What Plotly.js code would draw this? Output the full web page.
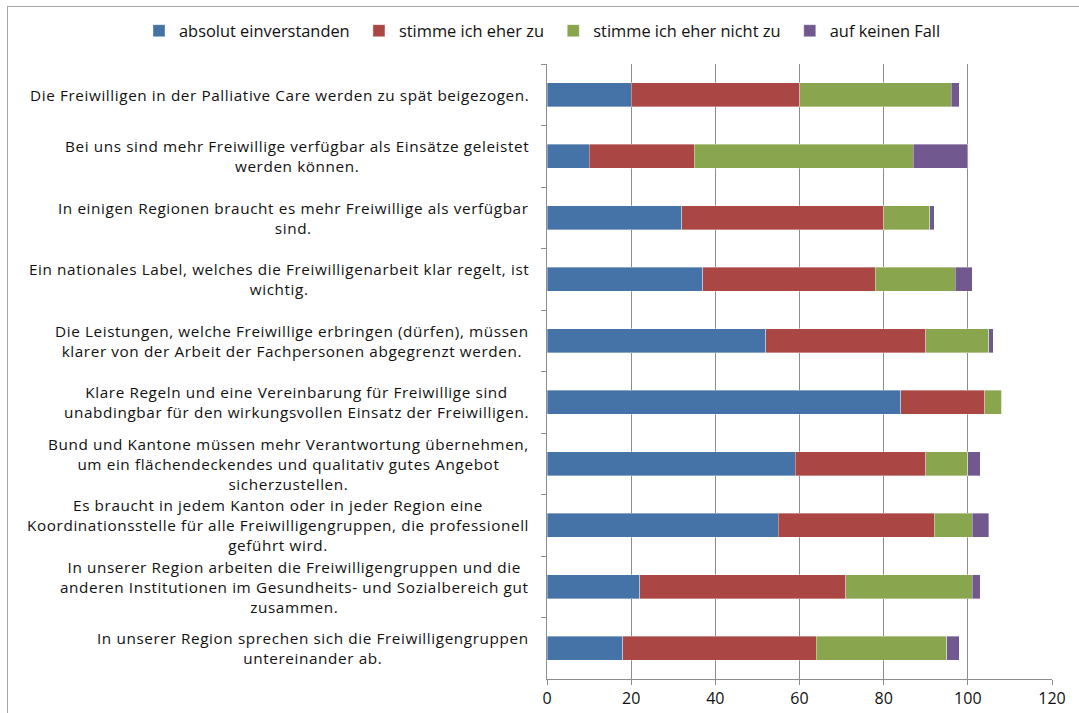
<!DOCTYPE html>
<html>
<head>
<meta charset="utf-8">
<script src="https://cdn.plot.ly/plotly-3.0.1.min.js"></script>
<style>
  html, body { margin: 0; padding: 0; background: #fff; }
  #wrap { position: relative; width: 1079px; height: 713px; overflow: hidden; }
  #frame { position: absolute; left: 7px; top: 6px; width: 1100px; height: 740px;
           border-top: 1px solid #a6a6a6; border-left: 1px solid #a6a6a6; pointer-events: none; }
  #chart { position: absolute; left: 0; top: 0; width: 1079px; height: 713px; }
  .annotation-text { letter-spacing: 0.6px; }
</style>
</head>
<body>
<div id="wrap">
  <div id="chart"></div>
  <div id="frame"></div>
</div>
<script>
const categories = [
  "Die Freiwilligen in der Palliative Care werden zu spät beigezogen.",
  "Bei uns sind mehr Freiwillige verfügbar als Einsätze geleistet<br>werden können.",
  "In einigen Regionen braucht es mehr Freiwillige als verfügbar<br>sind.",
  "Ein nationales Label, welches die Freiwilligenarbeit klar regelt, ist<br>wichtig.",
  "Die Leistungen, welche Freiwillige erbringen (dürfen), müssen<br>klarer von der Arbeit der Fachpersonen abgegrenzt werden.",
  "Klare Regeln und eine Vereinbarung für Freiwillige sind<br>unabdingbar für den wirkungsvollen Einsatz der Freiwilligen.",
  "Bund und Kantone müssen mehr Verantwortung übernehmen,<br>um ein flächendeckendes und qualitativ gutes Angebot<br>sicherzustellen.",
  "Es braucht in jedem Kanton oder in jeder Region eine<br>Koordinationsstelle für alle Freiwilligengruppen, die professionell<br>geführt wird.",
  "In unserer Region arbeiten die Freiwilligengruppen und die<br>anderen Institutionen im Gesundheits- und Sozialbereich gut<br>zusammen.",
  "In unserer Region sprechen sich die Freiwilligengruppen<br>untereinander ab."
];
const seriesNames = ["absolut einverstanden", "stimme ich eher zu", "stimme ich eher nicht zu", "auf keinen Fall"];
const absolutEinverstanden = [20, 10, 32, 37, 52, 84, 59, 55, 22, 18];
const stimmeEherZu         = [40, 25, 48, 41, 38, 20, 31, 37, 49, 46];
const stimmeEherNichtZu    = [36, 52, 11, 19, 15,  4, 10,  9, 30, 31];
const aufKeinenFall        = [ 2, 13,  1,  4,  1,  0,  3,  4,  2,  3];
const xTicks = [0, 20, 40, 60, 80, 100, 120];

const colors = ["#4572A7", "#AA4643", "#89A54E", "#71588F"];
const seriesValues = [absolutEinverstanden, stimmeEherZu, stimmeEherNichtZu, aufKeinenFall];
const ids = categories.map((c, i) => "c" + i);

const FONT = "Open Sans, Noto Sans, sans-serif";
const TXT = "#111111";

const traces = seriesValues.map((vals, k) => ({
  type: "bar",
  orientation: "h",
  name: seriesNames[k] + "\u00a0",
  y: ids,
  x: vals,
  marker: { color: colors[k], line: { color: "rgba(255,255,255,0.45)", width: 0.8 } },
  hoverinfo: "x+name"
}));

const annotations = categories.map((c, i) => ({
  xref: "paper", yref: "y",
  x: 0, y: ids[i],
  xshift: -16,
  xanchor: "right", yanchor: "middle",
  align: "center",
  text: c,
  showarrow: false,
  font: { family: FONT, size: 15.3, color: TXT }
}));

const layout = {
  width: 1079, height: 713,
  margin: { l: 547, r: 27, t: 64, b: 34, pad: 0 },
  paper_bgcolor: "rgba(0,0,0,0)",
  plot_bgcolor: "#ffffff",
  barmode: "stack",
  bargap: 0.61,
  font: { family: FONT, size: 16, color: TXT },
  xaxis: {
    range: [0, 120],
    tickvals: xTicks,
    ticktext: xTicks.map(String),
    showgrid: true, gridcolor: "#8c8c8c", gridwidth: 1,
    showline: true, linecolor: "#8c8c8c", linewidth: 1,
    ticks: "outside", ticklen: 5, tickcolor: "#8c8c8c",
    tickfont: { family: FONT, size: 16, color: TXT },
    zeroline: false, fixedrange: true
  },
  yaxis: {
    type: "category",
    categoryorder: "array", categoryarray: ids,
    autorange: "reversed",
    showticklabels: false,
    showgrid: false,
    showline: true, linecolor: "#8c8c8c", linewidth: 1,
    ticks: "outside", tickson: "boundaries", ticklen: 5, tickcolor: "#8c8c8c",
    zeroline: false, fixedrange: true
  },
  legend: {
    orientation: "h",
    xref: "paper", yref: "paper",
    x: (139 - 547) / 505, xanchor: "left",
    y: 1 + (64 - 31) / 615, yanchor: "middle",
    font: { family: FONT, size: 16.4, color: TXT },
    itemwidth: 30,
    traceorder: "normal",
    bgcolor: "rgba(0,0,0,0)"
  },
  annotations: annotations,
  showlegend: true
};

Plotly.newPlot("chart", traces, layout, { displayModeBar: false, staticPlot: true });
</script>
</body>
</html>
